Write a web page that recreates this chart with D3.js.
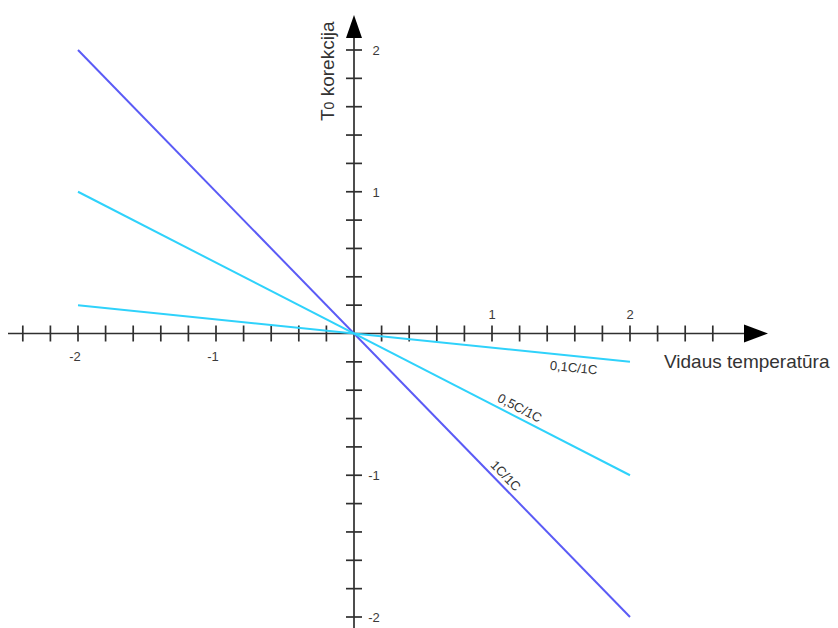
<!DOCTYPE html>
<html lang="lt">
<head>
    <meta charset="UTF-8">
    <title>T0 korekcija</title>
    <script src="https://cdn.jsdelivr.net/npm/d3@7"></script>
    <style>
        html, body {
            margin: 0;
            padding: 0;
            background: #fff;
        }

        svg text {
            font-family: "Liberation Sans", Arial, sans-serif;
        }
    </style>
</head>
<body>
<div id="chart"></div>
<script>
    // series: name, slope (correction per degree), colour
    const seriesNames = ['1C/1C', '0,5C/1C', '0,1C/1C']
    const seriesSlopes = [-1, -0.5, -0.1]
    const seriesColors = ['#5b5bf6', '#2fd2fb', '#2fd2fb']
    const lineDomain = [-2, 2]

    const xTickLabels = [-2, -1, 1, 2]
    const yTickLabels = [-2, -1, 1, 2]
    const xTitle = 'Vidaus temperatūra'
    const yTitle = 'korekcija'

    const width = 838, height = 628

    const svg = d3.select('#chart').append('svg')
        .attr('width', width)
        .attr('height', height)

    const x = d3.scaleLinear().domain([-2, 2]).range([78, 630])
    const y = d3.scaleLinear().domain([-2, 2]).range([617, 50])

    const axisColor = '#2f2f2f'
    const x0 = x(0), y0 = y(0)

    // minor ticks every 0.2
    const xTicks = d3.range(-12, 14).map(i => i / 5).filter(v => Math.abs(v) > 1e-9)
    const yTicks = d3.range(-10, 11).map(i => i / 5).filter(v => Math.abs(v) > 1e-9)

    // x axis
    const gx = svg.append('g').classed('x-axis', true)
    gx.append('line')
        .attr('x1', 8).attr('x2', 750)
        .attr('y1', y0).attr('y2', y0)
        .attr('stroke', axisColor).attr('stroke-width', 1.7)
    gx.append('path')
        .attr('d', `M768,${y0} L744,${y0 - 9} L744,${y0 + 9} Z`)
        .attr('fill', '#000')
    gx.selectAll('line.tick').data(xTicks).enter().append('line')
        .classed('tick', true)
        .attr('x1', d => x(d)).attr('x2', d => x(d))
        .attr('y1', y0 - 8).attr('y2', y0 + 8)
        .attr('stroke', axisColor).attr('stroke-width', 1.7)
    gx.selectAll('text').data(xTickLabels).enter().append('text')
        .text(d => d)
        .attr('x', d => x(d) + (d < 0 ? -3 : 0))
        .attr('y', d => d < 0 ? y0 + 27 : y0 - 15)
        .attr('text-anchor', 'middle')
        .attr('font-size', 13)
        .attr('fill', '#3a3a3a')

    // y axis
    const gy = svg.append('g').classed('y-axis', true)
    gy.append('line')
        .attr('x1', x0).attr('x2', x0)
        .attr('y1', 628).attr('y2', 36)
        .attr('stroke', axisColor).attr('stroke-width', 1.7)
    gy.append('path')
        .attr('d', `M${x0},15 L${x0 - 8},38 L${x0 + 8},38 Z`)
        .attr('fill', '#000')
    gy.selectAll('line.tick').data(yTicks).enter().append('line')
        .classed('tick', true)
        .attr('x1', x0 - 8).attr('x2', x0 + 8)
        .attr('y1', d => y(d)).attr('y2', d => y(d))
        .attr('stroke', axisColor).attr('stroke-width', 1.7)
    gy.selectAll('text').data(yTickLabels).enter().append('text')
        .text(d => d)
        .attr('x', d => x0 + (d < 0 ? 20 : 22))
        .attr('y', d => y(d) + 5)
        .attr('text-anchor', 'middle')
        .attr('font-size', 13)
        .attr('fill', '#3a3a3a')

    // axis titles
    svg.append('text')
        .text(xTitle)
        .attr('x', 664).attr('y', 368)
        .attr('font-size', 19)
        .attr('fill', '#333')

    const yt = svg.append('text')
        .attr('transform', 'translate(334,121) rotate(-90)')
        .attr('font-size', 19)
        .attr('fill', '#333')
    yt.append('tspan').text('T')
    yt.append('tspan').text('0').attr('font-size', 14)
    yt.append('tspan').text(' ' + yTitle)

    // lines
    const series = seriesNames.map((name, i) => ({
        name: name,
        slope: seriesSlopes[i],
        color: seriesColors[i],
        pts: lineDomain.map(v => [v, v * seriesSlopes[i]])
    }))

    const line = d3.line().x(d => x(d[0])).y(d => y(d[1]))

    svg.selectAll('path.series').data(series).enter().append('path')
        .classed('series', true)
        .attr('d', d => line(d.pts))
        .attr('fill', 'none')
        .attr('stroke', d => d.color)
        .attr('stroke-width', 2)

    // labels along the lines
    const labelAt = [1.05, 1.17, 1.6]
    const labelDy = [-5, -5, 16]
    svg.selectAll('text.series-label').data(series).enter().append('text')
        .classed('series-label', true)
        .text(d => d.name)
        .attr('transform', (d, i) => {
            const lx = labelAt[i]
            const ang = Math.atan2(y(lx * d.slope) - y0, x(lx) - x0) * 180 / Math.PI
            return `translate(${x(lx)},${y(lx * d.slope)}) rotate(${ang})`
        })
        .attr('dy', (d, i) => labelDy[i])
        .attr('text-anchor', 'middle')
        .attr('font-size', 13)
        .attr('fill', '#333')
</script>
</body>
</html>
